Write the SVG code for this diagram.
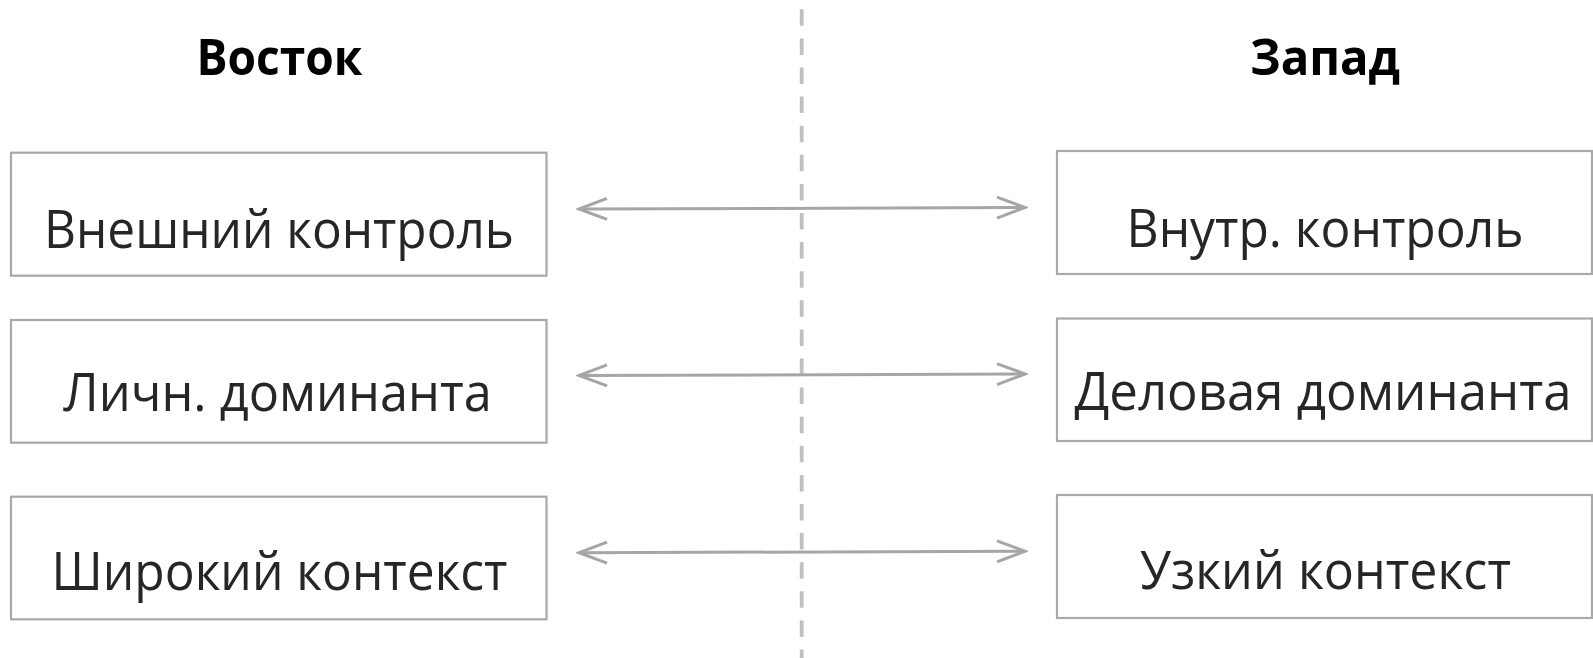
<svg xmlns="http://www.w3.org/2000/svg" width="1593" height="658" viewBox="0 0 1593 658">
<style>
.box{fill:#fff;stroke:#a9a9a9;stroke-width:2.2}
.lbl{font-family:"Open Sans","Noto Sans",sans-serif;font-size:53px;fill:#262626;text-anchor:middle}
.ttl{font-family:"Open Sans","Noto Sans",sans-serif;font-size:51px;font-weight:bold;fill:#000;text-anchor:middle}
.conn{stroke:#a6a6a6;stroke-width:3;fill:none;marker-start:url(#ah);marker-end:url(#ah)}
.div{stroke:#c0c0c0;stroke-width:3.8;stroke-dasharray:16.5 12.6;fill:none}
</style>
<defs>
<marker id="ah" markerUnits="userSpaceOnUse" markerWidth="32" markerHeight="26" viewBox="0 0 32 26" refX="29" refY="13" orient="auto-start-reverse">
<path d="M1,2.5 L29,13 L1,23.5" fill="none" stroke="#a6a6a6" stroke-width="3"/>
</marker>
</defs>
<rect width="1593" height="658" fill="#fff"/>
<g id="divider"><line class="div" x1="801.7" y1="9.3" x2="801.7" y2="658"/></g>
<g id="title-east"><text class="ttl" x="279.4" y="74.5" textLength="166" lengthAdjust="spacingAndGlyphs">Восток</text></g>
<g id="title-west"><text class="ttl" x="1325" y="74.5" textLength="150" lengthAdjust="spacingAndGlyphs">Запад</text></g>
<g id="east-1"><rect class="box" x="11" y="152.7" width="535.5" height="123"/><text class="lbl" x="279" y="247.5" textLength="470" lengthAdjust="spacingAndGlyphs">Внешний контроль</text></g>
<g id="east-2"><rect class="box" x="11" y="320" width="535.5" height="122.7"/><text class="lbl" x="277.5" y="411" textLength="428.5" lengthAdjust="spacingAndGlyphs">Личн. доминанта</text></g>
<g id="east-3"><rect class="box" x="11" y="496.7" width="535.5" height="122.6"/><text class="lbl" x="279.5" y="589.5" textLength="456" lengthAdjust="spacingAndGlyphs">Широкий контекст</text></g>
<g id="west-1"><rect class="box" x="1057" y="151" width="535" height="123"/><text class="lbl" x="1325" y="246.5" textLength="397" lengthAdjust="spacingAndGlyphs">Внутр. контроль</text></g>
<g id="west-2"><rect class="box" x="1057" y="318.5" width="535" height="122.5"/><text class="lbl" x="1323" y="409.5" textLength="497" lengthAdjust="spacingAndGlyphs">Деловая доминанта</text></g>
<g id="west-3"><rect class="box" x="1057" y="495" width="535" height="123"/><text class="lbl" x="1325.5" y="588.5" textLength="371" lengthAdjust="spacingAndGlyphs">Узкий контекст</text></g>
<g id="connectors">
<line class="conn" x1="579" y1="209" x2="1025" y2="207.5"/>
<line class="conn" x1="579" y1="375.5" x2="1025" y2="374"/>
<line class="conn" x1="579" y1="552.7" x2="1025" y2="551.3"/>
</g>
</svg>
